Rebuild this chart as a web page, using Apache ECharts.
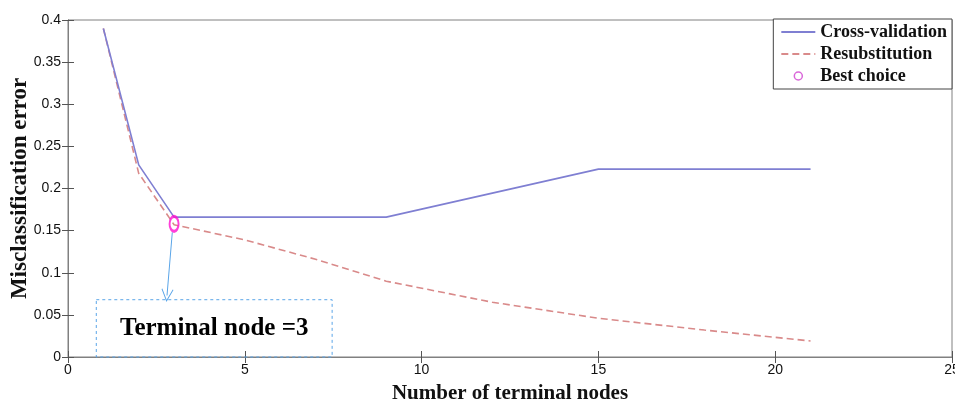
<!DOCTYPE html>
<html><head><meta charset="utf-8">
<script src="https://cdn.jsdelivr.net/npm/echarts@6/dist/echarts.min.js"></script>
<style>html,body{margin:0;padding:0;background:#fff}#c{width:955px;height:402px}</style>
</head><body><div id="c"></div>
<script>
const nodesCV = [1, 2, 3, 9, 15, 21];
const errCV = [0.390, 0.228, 0.166, 0.166, 0.223, 0.223];
const nodesResub = [1, 2, 3, 5, 7, 9, 12, 15, 18, 21];
const errResub = [0.390, 0.218, 0.157, 0.139, 0.116, 0.090, 0.065, 0.046, 0.032, 0.019];
const bestNode = [3];
const bestErr = [0.158];
const arrowFrom = [2.95, 0.148];
const arrowTo = [2.8, 0.073];
const boxFrom = [0.8, 0.068];
const boxTo = [7.47, 0];
const boxText = 'Terminal node =3';
const xTicks = { min: 0, max: 25, interval: 5 };
const yTicks = { min: 0, max: 0.4, interval: 0.05 };

const serif = '"Liberation Serif","Times New Roman",serif';
const sans = '"Liberation Sans",Arial,sans-serif';
const axisGray = '#808080';
const chart = echarts.init(document.getElementById('c'));
const zip = (a, b) => a.map((v, i) => [v, b[i]]);
const ellipse = 'path://M0,-8A5,8 0 1,1 0,8A5,8 0 1,1 0,-8Z';
const chevron = 'path://M0,0L6,13L5.2,13.4L0,2.2L-5.2,13.4L-6,13Z';

chart.setOption({
  animation: false,
  grid: { left: 68, right: 3, top: 20, bottom: 45, show: true, borderColor: axisGray, borderWidth: 1, outerBoundsMode: 'none', containLabel: false },
  legend: {
    orient: 'vertical', right: 3, top: 19,
    backgroundColor: '#fff', borderColor: '#444', borderWidth: 1,
    padding: [4, 5, 4, 7], itemGap: 4, itemWidth: 34, itemHeight: 8,
    textStyle: { fontFamily: serif, fontWeight: 'bold', fontSize: 18, color: '#111' },
    data: [
      { name: 'Cross-validation', itemStyle: { opacity: 0 } },
      { name: 'Resubstitution', itemStyle: { opacity: 0 } },
      { name: 'Best choice', icon: 'circle', itemStyle: { color: '#fff', borderColor: '#d040d0', borderWidth: 1.5 } }
    ]
  },
  xAxis: [{
    type: 'value', min: xTicks.min, max: xTicks.max, interval: xTicks.interval,
    name: 'Number of terminal nodes', nameLocation: 'middle', nameGap: 26,
    nameTextStyle: { fontFamily: serif, fontWeight: 'bold', fontSize: 21, color: '#111' },
    axisLine: { show: true, lineStyle: { color: axisGray } },
    axisTick: { show: true, inside: true, length: 6, lineStyle: { color: '#555' } },
    axisLabel: { fontFamily: sans, fontSize: 14, color: '#111', margin: 6 },
    splitLine: { show: false }
  }, {
    type: 'value', position: 'top', min: xTicks.min, max: xTicks.max, interval: xTicks.interval,
    axisLine: { show: true, lineStyle: { color: axisGray } },
    axisTick: { show: true, inside: true, length: 6, lineStyle: { color: '#555' } },
    axisLabel: { show: false }, splitLine: { show: false }
  }],
  yAxis: [{
    type: 'value', min: yTicks.min, max: yTicks.max, interval: yTicks.interval,
    name: 'Misclassification error', nameLocation: 'middle', nameGap: 36, nameMoveOverlap: false,
    nameTextStyle: { fontFamily: serif, fontWeight: 'bold', fontSize: 23, color: '#111' },
    axisLine: { show: true, lineStyle: { color: axisGray } },
    axisTick: { show: true, inside: true, length: 6, lineStyle: { color: '#555' } },
    axisLabel: { fontFamily: sans, fontSize: 14, color: '#111', margin: 7 },
    splitLine: { show: false }
  }, {
    type: 'value', position: 'right', min: yTicks.min, max: yTicks.max, interval: yTicks.interval,
    axisLine: { show: true, lineStyle: { color: axisGray } },
    axisTick: { show: true, inside: true, length: 6, lineStyle: { color: '#555' } },
    axisLabel: { show: false }, splitLine: { show: false }
  }],
  series: [{
    name: 'Cross-validation', type: 'line', symbol: 'none',
    data: zip(nodesCV, errCV),
    lineStyle: { color: '#7f7fd2', width: 1.6 }, itemStyle: { color: '#7f7fd2' }, z: 3
  }, {
    name: 'Resubstitution', type: 'line', symbol: 'none',
    data: zip(nodesResub, errResub),
    lineStyle: { color: '#d98a8a', width: 1.6, type: [7, 4] }, itemStyle: { color: '#d98a8a' }, z: 2
  }, {
    name: 'Best choice', type: 'scatter', symbol: ellipse, symbolSize: [9, 15],
    data: zip(bestNode, bestErr),
    itemStyle: { color: 'rgba(0,0,0,0)', borderColor: '#ff10d0', borderWidth: 2.5 }, z: 5,
    markLine: {
      silent: true, symbol: ['none', chevron], symbolSize: [12, 13],
      lineStyle: { color: '#5aa5e8', width: 1, type: 'solid' },
      label: { show: false },
      data: [[{ coord: arrowFrom }, { coord: arrowTo }]]
    },
    markArea: {
      silent: true,
      itemStyle: { color: 'rgba(0,0,0,0)', borderColor: '#5aa5e8', borderWidth: 1, borderType: [3, 3] },
      label: { show: true, position: 'inside', fontFamily: serif, fontWeight: 'bold', fontSize: 25, color: '#000' },
      data: [[{ coord: boxFrom, name: boxText }, { coord: boxTo }]]
    }
  }]
});
</script></body></html>
